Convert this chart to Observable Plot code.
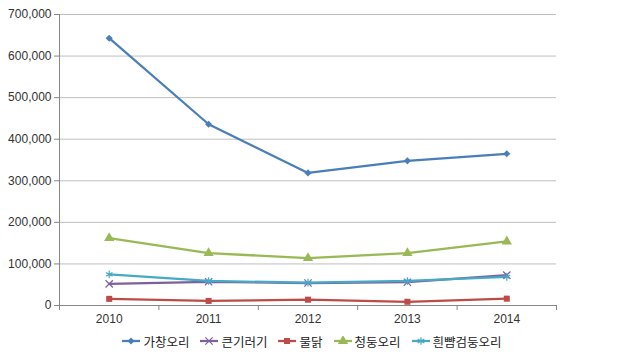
<!DOCTYPE html>
<html><head><meta charset="utf-8">
<script src="https://cdn.jsdelivr.net/npm/d3@7"></script>
<script src="https://cdn.jsdelivr.net/npm/@observablehq/plot@0.6"></script>
<style>
body{margin:0;background:#fff;}
#chart svg{display:block;}
#legend{display:flex;justify-content:center;align-items:center;height:20px;margin-left:4px;font-family:"Noto Sans CJK KR",sans-serif;font-size:12.5px;color:#222;}
.item{display:flex;align-items:center;margin:0 5px;}
.item svg{margin-right:2px;}
</style>
</head><body>
<div id="chart"></div>
<div id="legend"></div>
<script>
const years = [2010, 2011, 2012, 2013, 2014];
const seriesNames = ["가창오리", "큰기러기", "물닭", "청둥오리", "흰뺨검둥오리"];
const v가창오리 = [643000, 436000, 319000, 348000, 365000];
const v큰기러기 = [52000, 57000, 54000, 56000, 73000];
const v물닭 = [16000, 11000, 14000, 9000, 16500];
const v청둥오리 = [162000, 126000, 114000, 126000, 154000];
const v흰뺨검둥오리 = [75000, 59000, 55000, 59000, 69000];
const yTicks = [0, 100000, 200000, 300000, 400000, 500000, 600000, 700000];

const seriesValues = [v가창오리, v큰기러기, v물닭, v청둥오리, v흰뺨검둥오리];
const colors = ["#4A7EBB", "#7D60A0", "#BE4B48", "#98B954", "#46AAC5"];
const symbols = ["diamond2", "times", "square", "triangle", "asterisk"];
const filled = [true, false, true, true, false];
const sizes = [3.2, 3.4, 3.4, 3.8, 3.6];

const data = seriesNames.flatMap((s, i) => years.map((y, j) => ({series: s, idx: i, year: y, value: seriesValues[i][j]})));
const bounds = years.map(y => y - 0.5).concat([years[years.length - 1] + 0.5]);

const marks = [
  Plot.ruleY(yTicks, {stroke: "#BFBFBF", strokeWidth: 1}),
  Plot.ruleX([bounds[0]], {stroke: "#868686"}),
  Plot.ruleY([0], {stroke: "#868686"}),
  Plot.axisY({ticks: yTicks, tickFormat: d3.format(","), tickSize: 5, tickPadding: 3, stroke: "#868686", fill: "#333", fontSize: 12, label: null}),
  Plot.axisX({ticks: bounds, tickSize: 5, tickFormat: () => "", stroke: "#868686", label: null}),
  Plot.axisX({ticks: years, tickSize: 0, tickPadding: 9, tickFormat: d => String(d), fill: "#333", fontSize: 12, label: null})
];
seriesNames.forEach((s, i) => {
  const d = data.filter(r => r.idx === i);
  marks.push(Plot.line(d, {x: "year", y: "value", stroke: colors[i], strokeWidth: 2.25}));
});
seriesNames.forEach((s, i) => {
  const d = data.filter(r => r.idx === i);
  marks.push(Plot.dot(d, filled[i]
    ? {x: "year", y: "value", symbol: symbols[i], fill: colors[i], r: sizes[i]}
    : {x: "year", y: "value", symbol: symbols[i], stroke: colors[i], strokeWidth: 1.2, r: sizes[i]}));
});

const chart = Plot.plot({
  width: 619, height: 331,
  marginLeft: 59, marginRight: 63, marginTop: 14, marginBottom: 26,
  style: {fontFamily: "'Liberation Sans', Arial, sans-serif", fontSize: "12px", background: "#fff"},
  x: {type: "linear", domain: [bounds[0], bounds[bounds.length - 1]], axis: null},
  y: {domain: [0, 700000], axis: null},
  marks
});
document.getElementById("chart").appendChild(chart);

const legend = document.getElementById("legend");
const symMap = {diamond2: d3.symbolDiamond2, times: d3.symbolTimes, square: d3.symbolSquare, triangle: d3.symbolTriangle, asterisk: d3.symbolAsterisk};
seriesNames.forEach((s, i) => {
  const item = document.createElement("div");
  item.className = "item";
  const path = d3.symbol(symMap[symbols[i]], Math.PI * sizes[i] * sizes[i])();
  item.innerHTML = `<svg width="20" height="10"><line x1="1" x2="19" y1="5" y2="5" stroke="${colors[i]}" stroke-width="2.25"/><path transform="translate(10,5)" d="${path}" ${filled[i] ? `fill="${colors[i]}"` : `fill="none" stroke="${colors[i]}" stroke-width="1.2"`}/></svg><span>${s}</span>`;
  legend.appendChild(item);
});
</script>
</body></html>
